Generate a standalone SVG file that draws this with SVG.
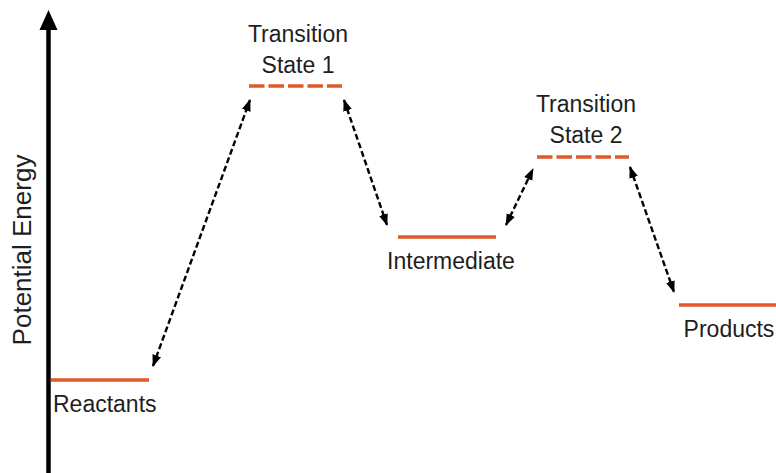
<svg xmlns="http://www.w3.org/2000/svg" width="776" height="473" viewBox="0 0 776 473">
<defs>
<style>
.lvl{stroke:#E0592B;stroke-width:3.5;fill:none}
.ts{stroke-dasharray:15.5 4}
.conn{stroke:#000;stroke-width:2.4;stroke-dasharray:6 3;fill:none;marker-start:url(#ah);marker-end:url(#ah)}
text{font-family:"Liberation Sans",Arial,sans-serif;fill:#1e1e1e;font-size:23px}
</style>
<marker id="ah" viewBox="0 0 12 10" refX="11" refY="5" markerWidth="12" markerHeight="10" markerUnits="userSpaceOnUse" orient="auto-start-reverse">
<path d="M0,0.5 L12,5 L0,9.5 Z" fill="#000"/>
</marker>
</defs>
<rect width="776" height="473" fill="#fff"/>
<g id="axis">
<line x1="48.5" y1="473" x2="48.5" y2="26" stroke="#000" stroke-width="4.5"/>
<path d="M48.5,10 L57.5,30 L39.5,30 Z" fill="#000"/>
<text x="0" y="0" text-anchor="middle" transform="translate(31,250) rotate(-90)" style="font-size:26px">Potential Energy</text>
</g>
<g id="reactants">
<line class="lvl" x1="51" y1="380" x2="149" y2="380"/>
<text x="53" y="412">Reactants</text>
</g>
<g id="ts1">
<line class="lvl ts" x1="249" y1="86" x2="342" y2="86"/>
<text x="298" y="42" text-anchor="middle">Transition</text>
<text x="298" y="73" text-anchor="middle">State 1</text>
</g>
<g id="intermediate">
<line class="lvl" x1="398" y1="237" x2="496" y2="237"/>
<text x="451" y="269" text-anchor="middle">Intermediate</text>
</g>
<g id="ts2">
<line class="lvl ts" x1="537" y1="157" x2="629" y2="157"/>
<text x="586" y="112" text-anchor="middle">Transition</text>
<text x="586" y="143" text-anchor="middle">State 2</text>
</g>
<g id="products">
<line class="lvl" x1="679" y1="305" x2="776" y2="305"/>
<text x="729" y="337" text-anchor="middle">Products</text>
</g>
<g id="connectors">
<line class="conn" x1="153" y1="366" x2="250" y2="100"/>
<line class="conn" x1="344" y1="100" x2="387" y2="225"/>
<line class="conn" x1="506" y1="225" x2="533" y2="169"/>
<line class="conn" x1="630" y1="167" x2="674" y2="292"/>
</g>
</svg>
